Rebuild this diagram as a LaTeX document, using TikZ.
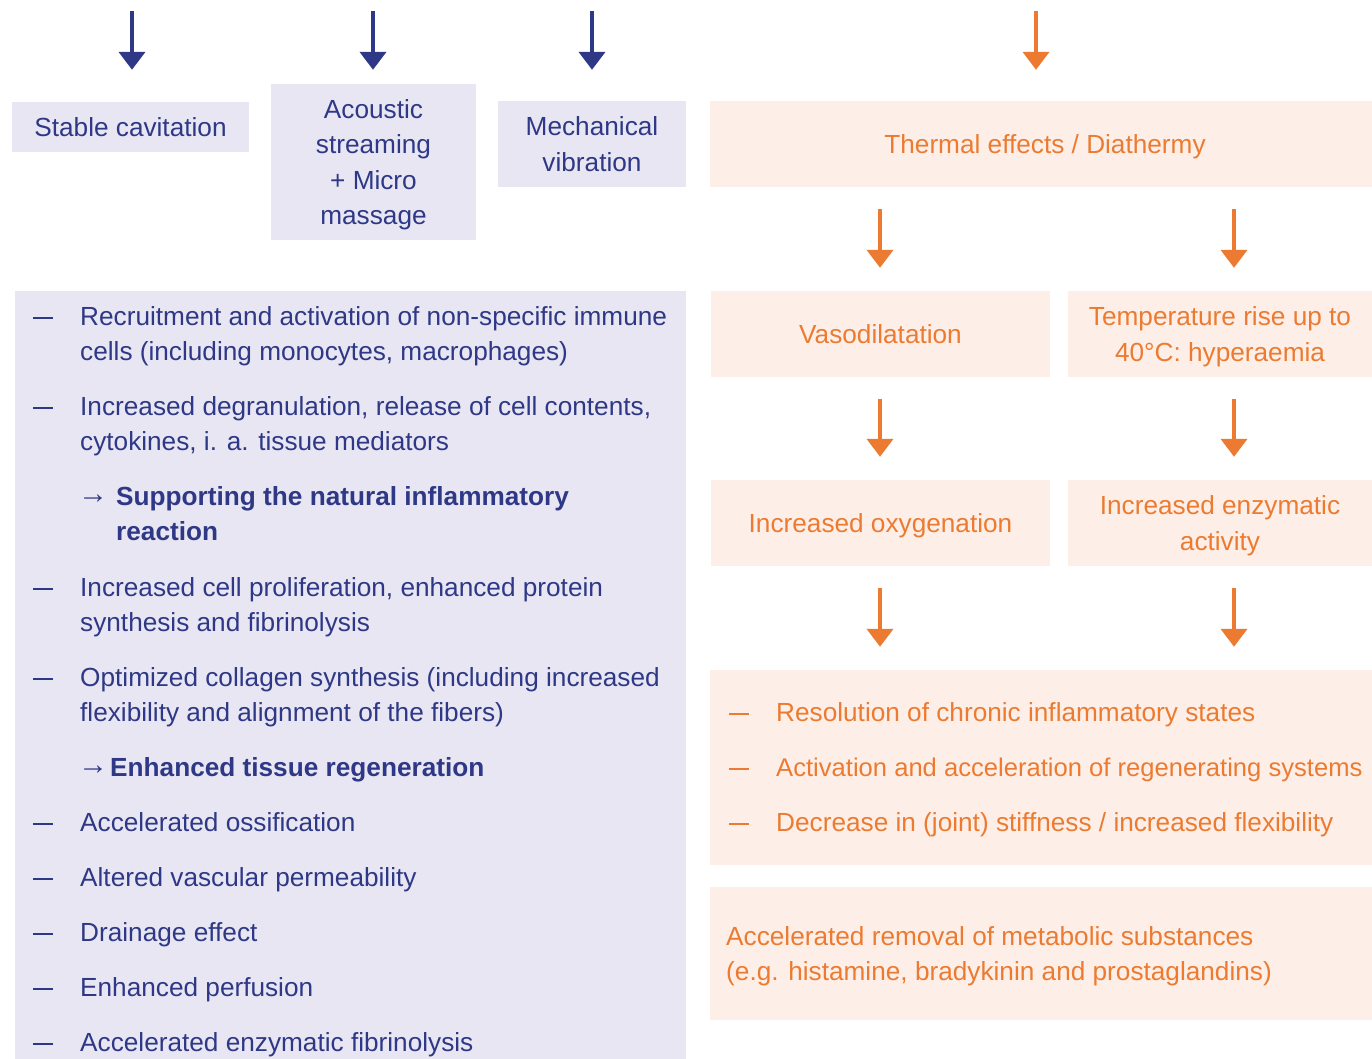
\documentclass[tikz,border=0pt]{standalone}
\usepackage{fontspec}
\setmainfont{Liberation Sans}
\usetikzlibrary{positioning,arrows.meta}

\definecolor{usblue}{HTML}{2E3886}
\definecolor{usbluefill}{HTML}{E8E6F2}
\definecolor{heatorange}{HTML}{EC7B31}
\definecolor{heatfill}{HTML}{FDEFE7}

\newcommand{\bodyfont}{\fontsize{26.2}{35.5}\selectfont}

\tikzset{
  bluebox/.style={fill=usbluefill, text=usblue, inner sep=0pt, align=center, text depth=0pt},
  heatbox/.style={fill=heatfill, text=heatorange, inner sep=0pt, align=center, text depth=0pt},
  bluearrow/.style={usblue, line width=4pt, -{Triangle[length=18pt,width=26pt]}},
  heatarrow/.style={heatorange, line width=4pt, -{Triangle[length=18pt,width=26pt]},
    shorten <=22pt, shorten >=23pt},
  item/.style={anchor=base west, inner sep=0pt, align=left},
  strong/.style={font=\bodyfont\bfseries},
  pointer/.style={font=\fontsize{30}{35.5}\selectfont\bfseries},
}

\begin{document}
\begin{tikzpicture}[x=1pt, y=-1pt, font=\bodyfont]
  \useasboundingbox (0,0) rectangle (1372,1058);

  % top row: ultrasound effects
  \node[bluebox, minimum width=237pt, minimum height=50pt] (stable) at (130.5,127) {Stable cavitation};
  \node[bluebox, minimum width=205pt, minimum height=156pt] (acoustic) at (373.5,162) {Acoustic\\streaming\\+ Micro\\massage};
  \node[bluebox, minimum width=188pt, minimum height=86pt] (mechanical) at (592,144) {Mechanical\\vibration};
  \node[heatbox, minimum width=670pt, minimum height=86pt] (thermal) at (1045,144) {Thermal effects / Diathermy};

  \coordinate (in1) at (132,11); \coordinate (in2) at (373,11);
  \coordinate (in3) at (592,11); \coordinate (in4) at (1036,11);
  \draw[bluearrow, shorten >=32pt] (in1) -- (in1 |- stable.north);
  \draw[bluearrow, shorten >=14pt] (in2) -- (in2 |- acoustic.north);
  \draw[bluearrow, shorten >=31pt] (in3) -- (in3 |- mechanical.north);
  \draw[heatarrow, shorten <=0pt, shorten >=31pt] (in4) -- (in4 |- thermal.north);

  % thermal chain
  \node[heatbox, minimum width=339pt, minimum height=86pt] (vaso) at (880.5,334) {Vasodilatation};
  \node[heatbox, minimum width=304pt, minimum height=86pt] (temp) at (1220,334) {Temperature rise up to\\40°C: hyperaemia};
  \node[heatbox, minimum width=339pt, minimum height=86pt] (oxygen) at (880.5,523) {Increased oxygenation};
  \node[heatbox, minimum width=304pt, minimum height=86pt] (enzyme) at (1220,523) {Increased enzymatic\\activity};
  \node[heatbox, minimum width=662pt, minimum height=195pt] (heatlist) at (1041,767.5) {};
  \node[heatbox, minimum width=662pt, minimum height=133pt] (removal) at (1041,953.5) {};

  \coordinate (colL) at (880,0); \coordinate (colR) at (1234,0);
  \draw[heatarrow] (colL |- thermal.south) -- (colL |- vaso.north);
  \draw[heatarrow] (colR |- thermal.south) -- (colR |- temp.north);
  \draw[heatarrow] (colL |- vaso.south) -- (colL |- oxygen.north);
  \draw[heatarrow] (colR |- temp.south) -- (colR |- enzyme.north);
  \draw[heatarrow] (colL |- oxygen.south) -- (colL |- heatlist.north);
  \draw[heatarrow] (colR |- enzyme.south) -- (colR |- heatlist.north);

  \foreach \y in {713,768,823} \fill[heatorange] (729,\y) rectangle (749,\y+2);
  \node[item, text=heatorange] (res) at (776,721) {Resolution of chronic inflammatory states};
  \node[item, text=heatorange, font=\fontsize{25.6}{35.5}\selectfont] (act) at (776,776) {Activation and acceleration of regenerating systems};
  \node[item, text=heatorange] (dec) at (776,831) {Decrease in (joint) stiffness / increased flexibility};
  \node[item, text=heatorange] (rem) at (726,980.5) {Accelerated removal of metabolic substances\\(e.g. histamine, bradykinin and prostaglandins)};

  % biological effects list (base = last line)
  \node[bluebox, minimum width=671pt, minimum height=780pt, anchor=north west] (effects) at (15,291) {};
  \foreach \y in {317,407,588,678,823,878,933,988,1043} \fill[usblue] (33,\y) rectangle (53,\y+2);
  \node[item, text=usblue] (rec) at (80,360.5) {Recruitment and activation of non-specific immune\\cells (including monocytes, macrophages)};
  \node[item, text=usblue] (degr) at (80,450.5) {Increased degranulation, release of cell contents,\\cytokines, i. a. tissue mediators};
  \node[item, text=usblue, pointer] (arr1) at (78,503) {→};
  \node[item, text=usblue, strong] (infl) at (116,540.5) {Supporting the natural inflammatory\\reaction};
  \node[item, text=usblue] (prol) at (80,631.5) {Increased cell proliferation, enhanced protein\\synthesis and fibrinolysis};
  \node[item, text=usblue] (coll) at (80,721.5) {Optimized collagen synthesis (including increased\\flexibility and alignment of the fibers)};
  \node[item, text=usblue, pointer] (arr2) at (78,774) {→};
  \node[item, text=usblue, strong] (regen) at (110,776) {Enhanced tissue regeneration};
  \node[item, text=usblue] (ossi) at (80,831) {Accelerated ossification};
  \node[item, text=usblue] (perm) at (80,886) {Altered vascular permeability};
  \node[item, text=usblue] (drain) at (80,941) {Drainage effect};
  \node[item, text=usblue] (perf) at (80,996) {Enhanced perfusion};
  \node[item, text=usblue] (fibr) at (80,1051) {Accelerated enzymatic fibrinolysis};
\end{tikzpicture}
\end{document}
